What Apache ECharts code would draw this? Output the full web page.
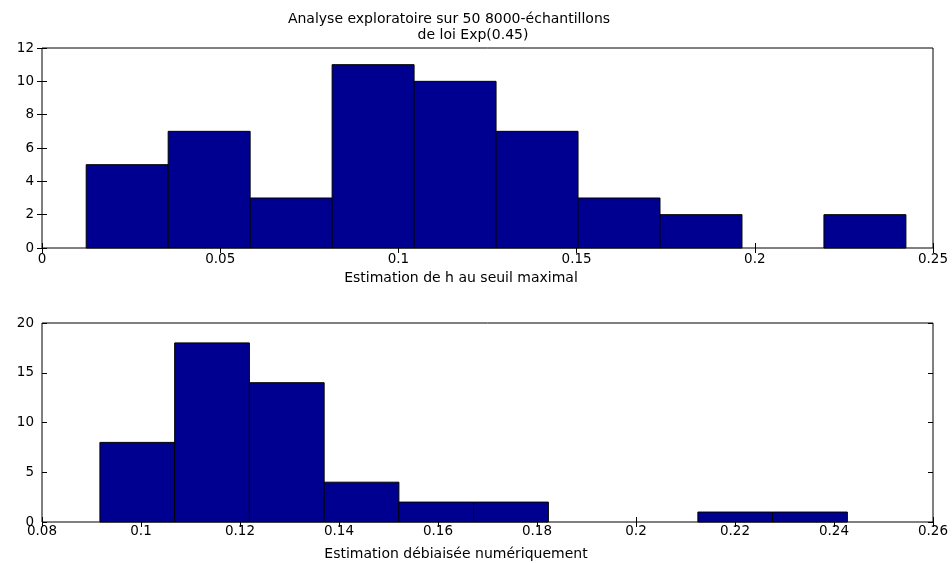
<!DOCTYPE html>
<html lang="fr">
  <head>
    <meta charset="UTF-8" />
    <title>Analyse exploratoire</title>
    <style>
      body {
        margin: 0;
        background: #fff;
      }
      #main {
        width: 952px;
        height: 563px;
      }
    </style>
  </head>
  <body>
    <div id="main"></div>
    <script src="https://cdn.jsdelivr.net/npm/echarts@6/dist/echarts.min.js"></script>
    <script>
      // histogramme du haut : bornes des classes et effectifs
      const edgesTop = [0.0124, 0.0354, 0.0584, 0.0814, 0.1044, 0.1274, 0.1504, 0.1734, 0.1964, 0.2194, 0.2424];
      const countsTop = [5, 7, 3, 11, 10, 7, 3, 2, 0, 2];
      // histogramme du bas
      const edgesBot = [0.0917, 0.1068, 0.1219, 0.1370, 0.1521, 0.1672, 0.1823, 0.1974, 0.2125, 0.2276, 0.2427];
      const countsBot = [8, 18, 14, 4, 2, 2, 0, 0, 1, 1];

      const toBins = (edges, counts) =>
        counts.map((c, i) => [edges[i], edges[i + 1], c]);

      const font = "DejaVu Sans, sans-serif";
      const barColor = "#000090";

      function renderBin(params, api) {
        if (!api.value(2)) return null; // classe vide : rien à dessiner
        const p0 = api.coord([api.value(0), 0]);
        const p1 = api.coord([api.value(1), api.value(2)]);
        return {
          type: "rect",
          shape: { x: p0[0], y: p1[1], width: p1[0] - p0[0], height: p0[1] - p1[1] },
          style: { fill: barColor, stroke: "#000", lineWidth: 1 },
        };
      }

      const labelStyle = { color: "#000", fontFamily: font, fontSize: 13.5 };
      const tick = { inside: true, length: 5, lineStyle: { color: "#000" } };

      function xAxes(gridIndex, min, max, interval, margin) {
        return [
          {
            type: "value", gridIndex, min, max, interval, position: "bottom",
            axisLine: { show: false }, splitLine: { show: false },
            axisTick: tick,
            axisLabel: Object.assign({ margin }, labelStyle),
          },
          {
            type: "value", gridIndex, min, max, interval, position: "top",
            axisLine: { show: false }, splitLine: { show: false },
            axisTick: tick,
            axisLabel: { show: false },
          },
        ];
      }

      function yAxes(gridIndex, max, interval) {
        return [
          {
            type: "value", gridIndex, min: 0, max, interval, position: "left",
            axisLine: { show: false }, splitLine: { show: false },
            axisTick: tick,
            axisLabel: Object.assign({ margin: 8 }, labelStyle),
          },
          {
            type: "value", gridIndex, min: 0, max, interval, position: "right",
            axisLine: { show: false }, splitLine: { show: false },
            axisTick: tick,
            axisLabel: { show: false },
          },
        ];
      }

      const textStyle = { fontFamily: font, fontSize: 14, fontWeight: "normal", color: "#000", lineHeight: 16 };
      const label = (text, left, top) => ({ text, left, top, padding: 0, textAlign: "center", textStyle });

      const chart = echarts.init(document.getElementById("main"));
      chart.setOption({
        animation: false,
        backgroundColor: "#fff",
        title: [
          label("Analyse exploratoire sur 50 8000-échantillons", 449, 11),
          label("de loi Exp(0.45)", 473, 27),
          label("Estimation de h au seuil maximal", 461, 270),
          label("Estimation débiaisée numériquement", 456, 546),
        ],
        grid: [
          { left: 42, right: 19, top: 48, height: 200, show: true, borderColor: "#000", borderWidth: 1, backgroundColor: "#fff" },
          { left: 42, right: 19, top: 323, height: 199, show: true, borderColor: "#000", borderWidth: 1, backgroundColor: "#fff" },
        ],
        xAxis: [...xAxes(0, 0, 0.25, 0.05, 4), ...xAxes(1, 0.08, 0.26, 0.02, 2)],
        yAxis: [...yAxes(0, 12, 2), ...yAxes(1, 20, 5)],
        series: [
          {
            type: "custom", xAxisIndex: 0, yAxisIndex: 0,
            renderItem: renderBin, encode: { x: [0, 1], y: 2 },
            data: toBins(edgesTop, countsTop),
          },
          {
            type: "custom", xAxisIndex: 2, yAxisIndex: 2,
            renderItem: renderBin, encode: { x: [0, 1], y: 2 },
            data: toBins(edgesBot, countsBot),
          },
        ],
      });
    </script>
  </body>
</html>
